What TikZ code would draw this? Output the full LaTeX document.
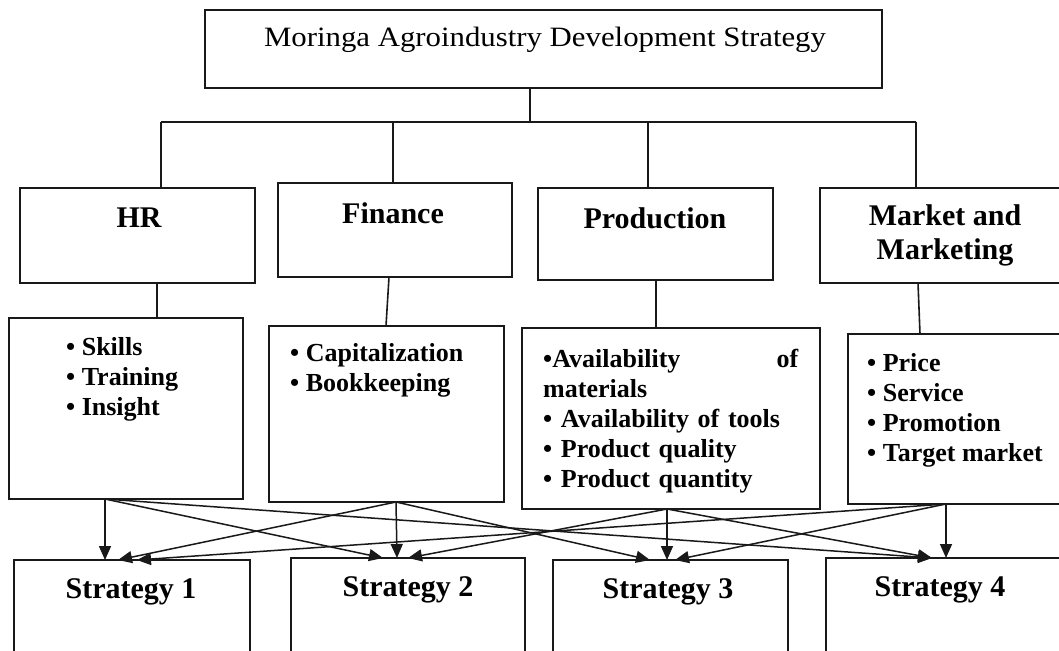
\documentclass[tikz,border=0pt]{standalone}
\usepackage{fontspec}
\setmainfont{Liberation Serif}
\usetikzlibrary{arrows.meta,calc}

\begin{document}
\begin{tikzpicture}[x=1pt,y=-1pt,
  box/.style={draw=black!90,line width=1.8pt,rectangle,inner sep=0pt,outer sep=0pt,anchor=north west},
  link/.style={draw=black!90,line width=1.6pt},
  flow/.style={draw=black!90,line width=1.5pt,-{Triangle[length=14pt,width=12pt]}},
  titletext/.style={font=\fontsize{28}{32}\selectfont,inner sep=0pt},
  headtext/.style={font=\bfseries\fontsize{30}{34}\selectfont,align=center,inner sep=0pt},
  listtext/.style={font=\bfseries\fontsize{26}{30}\selectfont,anchor=north west,inner sep=0pt,align=left},
  strattext/.style={font=\bfseries\fontsize{30}{34}\selectfont,inner sep=0pt}
]
\useasboundingbox (0,0) rectangle (1059,650);
\fill[white] (0,0) rectangle (1059,650);
\clip (0,0) rectangle (1059,650);

% --- boxes ---
\node[box,minimum width=677pt,minimum height=78pt] (top) at (205,10) {};
\node[box,minimum width=235pt,minimum height=95pt] (hr) at (20,188) {};
\node[box,minimum width=234pt,minimum height=94pt] (fin) at (278,183) {};
\node[box,minimum width=235pt,minimum height=92pt] (prod) at (538,188) {};
\node[box,minimum width=250pt,minimum height=95pt] (mkt) at (820,188) {};

\node[box,minimum width=234pt,minimum height=181pt] (hrd) at (9,318) {};
\node[box,minimum width=235pt,minimum height=176pt] (find) at (269,326) {};
\node[box,minimum width=298pt,minimum height=181pt] (prodd) at (522,328) {};
\node[box,minimum width=222pt,minimum height=170pt] (mktd) at (848,334) {};

\node[box,minimum width=236pt,minimum height=110pt] (s1) at (14,560) {};
\node[box,minimum width=234pt,minimum height=110pt] (s2) at (291,558) {};
\node[box,minimum width=235pt,minimum height=110pt] (s3) at (553,560) {};
\node[box,minimum width=244pt,minimum height=110pt] (s4) at (826,558) {};

% --- texts ---
\node[titletext] (ttl) at (545,40) {\scalebox{1.1}[1]{Moringa Agroindustry Development Strategy}};
\node[headtext] (hrt) at (139,218) {HR};
\node[headtext] (fint) at (393,213) {Finance};
\node[headtext] (prodt) at (655,218) {Production};
\node[headtext] (mktt) at (945,235) {Market and\\Marketing};

\node[listtext] (hrl) at (66,337) {\textbullet\ Skills\\\textbullet\ Training\\\textbullet\ Insight};
\node[listtext] (finl) at (290,343) {\textbullet\ Capitalization\\\textbullet\ Bookkeeping};
\node[listtext,text width=255pt] (prodl) at (543,349)
  {\textbullet Availability\hfill of\\materials\\\textbullet\ Availability of tools\\\textbullet\ Product quality\\\textbullet\ Product quantity};
\node[listtext] (mktl) at (867,353) {\textbullet\ Price\\\textbullet\ Service\\\textbullet\ Promotion\\\textbullet\ Target market};

\node[strattext] (s1t) at (131,592) {Strategy 1};
\node[strattext] (s2t) at (408,590) {Strategy 2};
\node[strattext] (s3t) at (668,592) {Strategy 3};
\node[strattext] (s4t) at (940,590) {Strategy 4};

% --- tree of the four areas ---
\coordinate (dT) at (530,122);
\coordinate (dH) at (161,122);
\coordinate (dF) at (393,122);
\coordinate (dP) at (648,122);
\coordinate (dM) at (916,122);
\draw[link] (top.south -| dT) -- (dT);
\draw[link] (dH) -- (dM);
\draw[link] (dH) -- (dH |- hr.north);
\draw[link] (dF) -- (dF |- fin.north);
\draw[link] (dP) -- (dP |- prod.north);
\draw[link] (dM) -- (dM |- mkt.north);

% --- each area to its factors ---
\draw[link] ([xshift=19.5pt]hr.south) -- ([xshift=31pt]hrd.north);
\draw[link] ([xshift=-6pt]fin.south) -- ([xshift=-0.5pt]find.north);
\draw[link] ([xshift=0.5pt]prod.south) -- ([xshift=-15pt]prodd.north);
\draw[link] ([xshift=-27pt]mkt.south) -- ([xshift=-39pt]mktd.north);

% --- factors to strategies ---
\coordinate (oH) at ([xshift=-21pt]hrd.south);
\coordinate (oF) at ([xshift=9.5pt]find.south);
\coordinate (oP) at ([xshift=-4pt]prodd.south);
\coordinate (oM) at ([xshift=-13pt]mktd.south);

\coordinate (t1H) at ([xshift=-27pt]s1.north);
\coordinate (t1F) at ([xshift=-14pt]s1.north);
\coordinate (t1M) at ([xshift=5pt]s1.north);
\coordinate (t2H) at ([xshift=-25pt]s2.north);
\coordinate (t2F) at ([xshift=-11pt]s2.north);
\coordinate (t2P) at ([xshift=0pt]s2.north);
\coordinate (t3F) at ([xshift=-20.5pt]s3.north);
\coordinate (t3P) at ([xshift=-3.5pt]s3.north);
\coordinate (t3M) at ([xshift=4.5pt]s3.north);
\coordinate (t4H) at ([xshift=-16pt]s4.north);
\coordinate (t4M) at ([xshift=-2pt]s4.north);

\draw[flow] (oH) -- (t1H);
\draw[flow] (oH) -- (t2H);
\draw[flow] (oH) -- (t4H);
\draw[flow] (oF) -- (t1F);
\draw[flow] (oF) -- (t2F);
\draw[flow] (oF) -- (t3F);
\draw[flow] (oP) -- (t2P);
\draw[flow] (oP) -- (t3P);
\draw[flow] (oP) -- (t4H);
\draw[flow] (oM) -- (t1M);
\draw[flow] (oM) -- (t3M);
\draw[flow] (oM) -- (t4M);
\end{tikzpicture}
\end{document}
